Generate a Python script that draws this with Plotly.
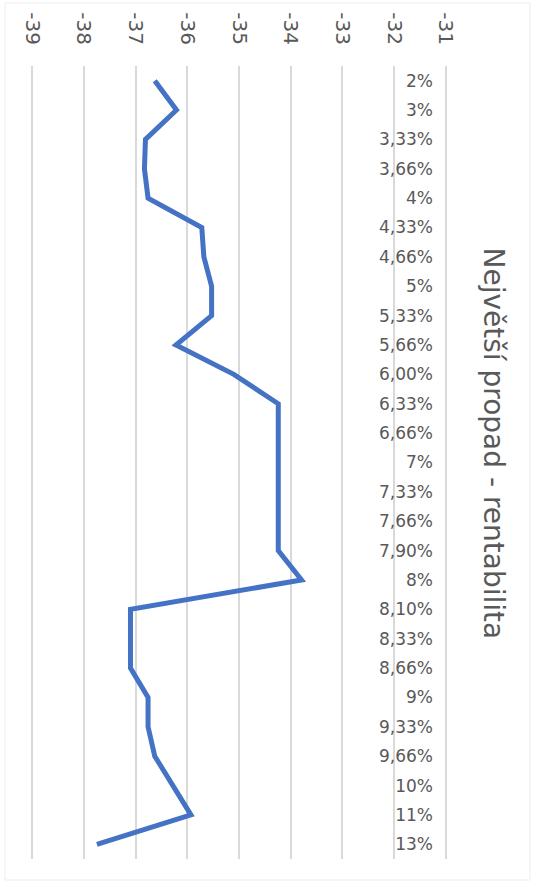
import plotly.graph_objects as go

# Categories (rentabilita) and the largest drawdown for each
categories = ["2%", "3%", "3,33%", "3,66%", "4%", "4,33%", "4,66%", "5%", "5,33%",
              "5,66%", "6,00%", "6,33%", "6,66%", "7%", "7,33%", "7,66%", "7,90%",
              "8%", "8,10%", "8,33%", "8,66%", "9%", "9,33%", "9,66%", "10%", "11%", "13%"]
propad = [-36.63, -36.21, -36.81, -36.83, -36.76, -35.72, -35.68, -35.53, -35.53,
          -36.22, -35.10, -34.24, -34.24, -34.24, -34.24, -34.24, -34.24,
          -33.79, -37.10, -37.10, -37.10, -36.76, -36.76, -36.63, -36.28, -35.93, -37.75]
value_ticks = list(range(-39, -30))

title_text = "Největší propad - rentabilita"
font_family = "DejaVu Sans"
label_color = "#595959"

W, H = 534, 883
left, right, top, bottom = 31, 87, 66, 24
plot_w = W - left - right
plot_h = H - top - bottom

fig = go.Figure()
fig.add_trace(go.Scatter(
    x=propad, y=categories, mode="lines",
    line=dict(color="#4472C4", width=5),
    hoverinfo="skip", showlegend=False,
))

fig.update_layout(
    width=W, height=H,
    margin=dict(l=left, r=right, t=top, b=bottom),
    paper_bgcolor="white", plot_bgcolor="white",
    xaxis=dict(
        side="top", range=[-39.025, -30.975], tickvals=value_ticks,
        ticktext=[str(v) for v in value_ticks],
        tickangle=90, showgrid=True, gridcolor="#D9D9D9", gridwidth=2,
        zeroline=False, showline=False, ticks="",
        tickfont=dict(family=font_family, size=20, color=label_color),
        ticklabelstandoff=17,
    ),
    yaxis=dict(
        type="category", categoryorder="array", categoryarray=categories,
        range=[len(categories) - 0.5, -0.5],
        anchor="free", position=(433 - left) / plot_w, side="left",
        showgrid=False, zeroline=False, showline=False, ticks="",
        tickfont=dict(family=font_family, size=17, color=label_color),
    ),
    annotations=[dict(
        text=title_text, xref="paper", yref="paper",
        x=(493 - left) / plot_w, y=1 - (443.5 - top) / plot_h,
        xanchor="center", yanchor="middle", textangle=90, showarrow=False,
        font=dict(family=font_family, size=28, color=label_color),
    )],
    shapes=[dict(
        type="rect", xref="paper", yref="paper",
        x0=(5 - left) / plot_w, x1=(530 - left) / plot_w,
        y0=1 - (880 - top) / plot_h, y1=1 - (3 - top) / plot_h,
        line=dict(color="#EDEDED", width=1), layer="below",
    )],
)

fig.write_html("out.html")
